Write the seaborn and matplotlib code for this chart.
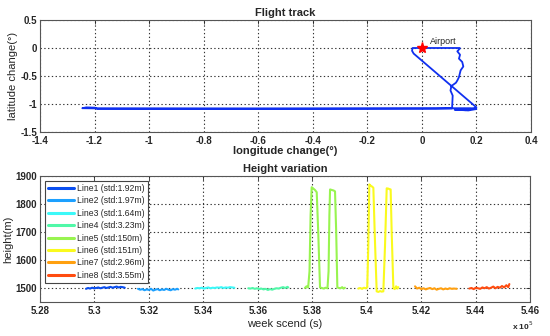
import pandas as pd
import seaborn as sns
import matplotlib.pyplot as plt
from matplotlib.ticker import FuncFormatter

# flight track (degrees relative to the airport)
track_lon = [0.0, -0.034, -0.036, -0.030, 0.20, 0.19, 0.16, 0.12, 0.17, 0.20, 0.18, 0.05, -0.60,
             -1.20, -1.245, -1.23, -1.20, -1.19, -0.60, 0.05, 0.111, 0.111, 0.112, 0.113, 0.105,
             0.108, 0.125, 0.130, 0.136, 0.142, 0.152, 0.148, 0.136, 0.140, 0.130, 0.139, 0.139, 0.0]
track_lat = [0.0, 0.0, -0.05, -0.10, -1.06, -1.08, -1.11, -1.10, -1.115, -1.09, -1.075, -1.075, -1.078,
             -1.078, -1.075, -1.06, -1.065, -1.085, -1.088, -1.085, -1.08, -1.05, -0.95, -0.85, -0.76,
             -0.68, -0.62, -0.58, -0.52, -0.40, -0.33, -0.25, -0.19, -0.12, -0.06, -0.01, 0.0, 0.0]

# height series (week second, metres)
labels = ["Line1 (std:1.92m)", "Line2 (std:1.97m)", "Line3 (std:1.64m)", "Line4 (std:3.23m)",
          "Line5 (std:150m)", "Line6 (std:151m)", "Line7 (std:2.96m)", "Line8 (std:3.55m)"]
colors = ["#0a4ef0", "#1ca0ff", "#3cf8f8", "#50f8a8", "#98f450", "#fafa1e", "#ffa010", "#ff4c10"]

t1 = [529690, 529765, 529840, 529915, 529990, 530065, 530140, 530215, 530290, 530365,
      530440, 530515, 530590, 530665, 530740, 530815, 530890, 530965, 531040, 531115]
h1 = [1497, 1500, 1498, 1501, 1499, 1500, 1502, 1499, 1501, 1503,
      1500, 1502, 1504, 1501, 1503, 1505, 1502, 1504, 1503, 1501]
t2 = [531600, 531680, 531760, 531840, 531920, 532000, 532080, 532160, 532240, 532320,
      532400, 532480, 532560, 532640, 532720, 532800, 532880, 532960, 533040, 533080]
h2 = [1497, 1494, 1496, 1492, 1495, 1493, 1497, 1491, 1494, 1496,
      1492, 1495, 1493, 1497, 1494, 1492, 1496, 1494, 1497, 1495]
t3 = [533700, 533780, 533860, 533940, 534020, 534100, 534180, 534260, 534340, 534420,
      534500, 534580, 534660, 534740, 534820, 534900, 534980, 535060, 535140]
h3 = [1498, 1500, 1499, 1501, 1498, 1500, 1502, 1499, 1501, 1500,
      1502, 1501, 1503, 1500, 1502, 1501, 1503, 1502, 1501]
t4 = [535650, 535730, 535810, 535890, 535970, 536050, 536130, 536210, 536290, 536370,
      536450, 536530, 536610, 536690, 536770, 536850, 536930, 537010, 537090, 537120]
h4 = [1499, 1498, 1500, 1497, 1499, 1496, 1498, 1495, 1497, 1493,
      1496, 1494, 1497, 1499, 1498, 1501, 1503, 1500, 1504, 1502]
t5 = [537730, 537790, 537850, 537900, 537940, 537980, 538040, 538100, 538165, 538220,
      538286, 538350, 538420, 538490, 538560, 538600, 538630, 538655, 538720, 538790,
      538837, 538880, 538922, 538980, 539040, 539100, 539150, 539200]
h5 = [1500, 1506, 1502, 1560, 1760, 1860, 1855, 1850, 1842, 1700,
      1502, 1500, 1498, 1501, 1499, 1560, 1760, 1852, 1850, 1848,
      1845, 1700, 1502, 1500, 1499, 1503, 1498, 1501]
t6 = [539693, 539760, 539830, 539900, 539960, 540020, 540060, 540097, 540150, 540200,
      540245, 540300, 540367, 540430, 540490, 540550, 540612, 540673, 540735, 540790,
      540840, 540880, 540918, 540980, 541030, 541080, 541130, 541163]
h6 = [1498, 1500, 1497, 1501, 1499, 1502, 1650, 1870, 1865, 1862,
      1858, 1680, 1488, 1486, 1489, 1487, 1488, 1650, 1856, 1855,
      1853, 1852, 1700, 1500, 1496, 1506, 1498, 1503]
t7 = [541776, 541850, 541930, 542010, 542090, 542170, 542250, 542330, 542410, 542490,
      542570, 542650, 542730, 542810, 542890, 542970, 543050, 543130, 543210, 543306]
h7 = [1506, 1498, 1501, 1496, 1499, 1495, 1498, 1500, 1496, 1499,
      1494, 1497, 1499, 1495, 1498, 1496, 1499, 1497, 1498, 1497]
t8 = [543770, 543850, 543930, 544010, 544090, 544170, 544250, 544330, 544410, 544490,
      544570, 544650, 544730, 544810, 544890, 544970, 545050, 545130, 545200, 545240]
h8 = [1498, 1500, 1496, 1501, 1499, 1497, 1502, 1499, 1503, 1498,
      1501, 1505, 1499, 1504, 1501, 1507, 1502, 1510, 1503, 1514]

series_t = [t1, t2, t3, t4, t5, t6, t7, t8]
series_h = [h1, h2, h3, h4, h5, h6, h7, h8]

sns.set_theme(style="white")
plt.rcParams["font.family"] = ["Liberation Sans", "DejaVu Sans"]
plt.rcParams["axes.unicode_minus"] = False

fig = plt.figure(figsize=(5.5, 3.36), dpi=100)
ax1 = fig.add_axes([0.0727, 0.6071, 0.8927, 0.3334])
ax2 = fig.add_axes([0.0727, 0.1012, 0.8910, 0.3750])

fmt_g = FuncFormatter(lambda v, p: "%g" % round(v, 4))


def matlab_axes(ax):
    for s in ax.spines.values():
        s.set_color("#555555")
        s.set_linewidth(0.8)
    ax.grid(True, linestyle=(0, (1.2, 2.2)), color="#333333", linewidth=0.8)
    ax.tick_params(direction="in", length=3, width=0.6, labelsize=7, pad=2,
                   top=True, right=True)
    ax.tick_params(axis="x", pad=3)
    for lab in ax.get_xticklabels() + ax.get_yticklabels():
        lab.set_fontweight("bold")


# top: flight track
sns.lineplot(x=track_lon, y=track_lat, sort=False, estimator=None, color="#1030f0",
             linewidth=1.3, ax=ax1)
ax1.plot([0], [0], marker="*", color="red", markersize=8, linestyle="none")
ax1.text(0.03, 0.04, "Airport", fontsize=6.5, ha="left", va="bottom")
ax1.set_xlim(-1.4, 0.4)
ax1.set_ylim(-1.5, 0.5)
ax1.set_xticks([-1.4, -1.2, -1.0, -0.8, -0.6, -0.4, -0.2, 0, 0.2, 0.4])
ax1.set_yticks([-1.5, -1, -0.5, 0, 0.5])
ax1.xaxis.set_major_formatter(fmt_g)
ax1.yaxis.set_major_formatter(fmt_g)
ax1.set_title("Flight track", fontsize=8, fontweight="bold", pad=3)
ax1.set_xlabel("longitude change(°)", fontsize=8, fontweight="bold", labelpad=0)
ax1.set_ylabel("latitude change(°)", fontsize=8, labelpad=2)
matlab_axes(ax1)

# bottom: heights
rows = []
for lab, ts, hs in zip(labels, series_t, series_h):
    for t, h in zip(ts, hs):
        rows.append({"t": t, "h": h, "line": lab})
df = pd.DataFrame(rows)
sns.lineplot(data=df, x="t", y="h", hue="line", hue_order=labels,
             palette=dict(zip(labels, colors)), sort=False, estimator=None,
             linewidth=1.5, ax=ax2)
ax2.set_xlim(528000, 546000)
ax2.set_ylim(1450, 1900)
ax2.set_xticks([528000, 530000, 532000, 534000, 536000, 538000, 540000,
                542000, 544000, 546000])
ax2.set_yticks([1500, 1600, 1700, 1800, 1900])
ax2.xaxis.set_major_formatter(FuncFormatter(lambda v, p: "%g" % round(v / 1e5, 4)))
ax2.set_title("Height variation", fontsize=8, fontweight="bold", pad=3)
ax2.set_xlabel("week scend (s)", fontsize=8, labelpad=2)
ax2.set_ylabel("height(m)", fontsize=8, labelpad=2)
ax2.text(0.985, -0.19, r"x 10$^5$", transform=ax2.transAxes, fontsize=6,
         fontweight="bold", ha="center", va="center")
matlab_axes(ax2)

leg = ax2.legend(loc="upper left", fontsize=6.2, frameon=True, fancybox=False,
                 edgecolor="#444444", framealpha=1, handlelength=3.0, labelspacing=0.4,
                 borderpad=0.35, handletextpad=0.4, borderaxespad=0.55)
leg.get_frame().set_linewidth(0.8)
for line in leg.get_lines():
    line.set_linewidth(2.2)

fig.savefig("out.png", dpi=100)
